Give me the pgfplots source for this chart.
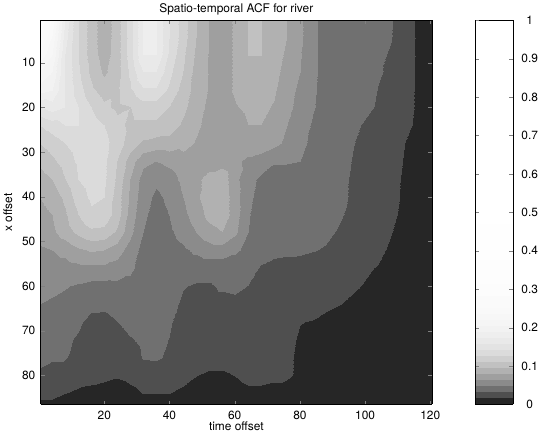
\documentclass[border=0pt]{standalone}
\usepackage{fontspec}
\setmainfont{TeX Gyre Heros}
\usepackage{pgfplots}
\pgfplotsset{compat=1.18}
\pgfplotsset{/pgf/number format/assume math mode=true}
\begin{document}
\begin{tikzpicture}[font=\fontsize{12}{14}\selectfont]
\begin{axis}[
    width=394pt, height=387pt, scale only axis,
    view={0}{90},
    xmin=0.5, xmax=120.5, ymin=0.5, ymax=86.5,
    y dir=reverse,
    xtick={20,40,60,80,100,120},
    ytick={10,20,30,40,50,60,70,80},
    xtick pos=both, ytick pos=both,
    xticklabel pos=left, yticklabel pos=left,
    tick align=inside,
    major tick length=4pt,
    axis line style={line width=0.6pt},
    axis on top,
    xticklabel style={yshift=-3pt},
    yticklabel style={xshift=-2pt},
    xlabel={time offset}, ylabel={x offset},
    xlabel style={yshift=5pt}, ylabel shift=3pt,
    title={Spatio-temporal ACF for river},
    title style={yshift=-4pt},
    colormap={acf}{gray(0cm)=(0.15) gray(1cm)=(0.31) gray(2cm)=(0.44) gray(3cm)=(0.545)
      gray(4cm)=(0.625) gray(5cm)=(0.695) gray(6cm)=(0.755) gray(7cm)=(0.81) gray(8cm)=(0.86)
      gray(9cm)=(0.89) gray(10cm)=(0.915) gray(11cm)=(0.935) gray(12cm)=(0.95) gray(13cm)=(0.96)
      gray(14cm)=(0.968) gray(15cm)=(0.975) gray(16cm)=(0.98) gray(18cm)=(0.987) gray(20cm)=(0.993)
      gray(24cm)=(0.997) gray(30cm)=(1) gray(64cm)=(1)},
    colormap access=piecewise constant,
    point meta min=0, point meta max=1,
    colorbar,
    colorbar style={
        width=38pt,
        at={(parent axis.north east)}, anchor=north west, xshift=35pt,
        ytick={0,0.1,0.2,0.3,0.4,0.5,0.6,0.7,0.8,0.9,1},
        ytick pos=both, yticklabel pos=right,
        tick align=inside, major tick length=4pt,
        axis line style={line width=0.6pt},
        yticklabel style={anchor=center, inner xsep=0pt, xshift=17pt},
    },
]
\addplot3[surf, shader=interp, mesh/cols=31] coordinates {
(0,0,0.313) (4,0,0.250) (8,0,0.172) (12,0,0.125) (16,0,0.102) (20,0,0.084) (24,0,0.102) (28,0,0.133) (32,0,0.172) (36,0,0.172) (40,0,0.141) (44,0,0.117) (48,0,0.094) (52,0,0.078) (56,0,0.072) (60,0,0.080) (64,0,0.094) (68,0,0.094) (72,0,0.0875) (76,0,0.078) (80,0,0.066) (84,0,0.050) (88,0,0.041) (92,0,0.039) (96,0,0.0375) (100,0,0.036) (104,0,0.034) (108,0,0.032) (112,0,0.023) (116,0,0.014) (121,0,0.008)
(0,4,0.281) (4,4,0.234) (8,4,0.164) (12,4,0.125) (16,4,0.102) (20,4,0.084) (24,4,0.102) (28,4,0.133) (32,4,0.172) (36,4,0.172) (40,4,0.141) (44,4,0.117) (48,4,0.094) (52,4,0.078) (56,4,0.072) (60,4,0.080) (64,4,0.094) (68,4,0.094) (72,4,0.0875) (76,4,0.078) (80,4,0.066) (84,4,0.050) (88,4,0.041) (92,4,0.039) (96,4,0.0375) (100,4,0.036) (104,4,0.034) (108,4,0.032) (112,4,0.023) (116,4,0.014) (121,4,0.008)
(0,8,0.250) (4,8,0.219) (8,8,0.156) (12,8,0.125) (16,8,0.102) (20,8,0.086) (24,8,0.102) (28,8,0.133) (32,8,0.172) (36,8,0.172) (40,8,0.138) (44,8,0.113) (48,8,0.091) (52,8,0.077) (56,8,0.072) (60,8,0.080) (64,8,0.094) (68,8,0.094) (72,8,0.086) (76,8,0.075) (80,8,0.064) (84,8,0.050) (88,8,0.041) (92,8,0.039) (96,8,0.0375) (100,8,0.036) (104,8,0.034) (108,8,0.030) (112,8,0.023) (116,8,0.014) (121,8,0.008)
(0,12,0.219) (4,12,0.203) (8,12,0.156) (12,12,0.128) (16,12,0.106) (20,12,0.091) (24,12,0.102) (28,12,0.128) (32,12,0.156) (36,12,0.156) (40,12,0.130) (44,12,0.109) (48,12,0.0875) (52,12,0.077) (56,12,0.072) (60,12,0.080) (64,12,0.091) (68,12,0.091) (72,12,0.083) (76,12,0.072) (80,12,0.0625) (84,12,0.050) (88,12,0.041) (92,12,0.039) (96,12,0.0375) (100,12,0.036) (104,12,0.032) (108,12,0.030) (112,12,0.023) (116,12,0.014) (121,12,0.008)
(0,16,0.195) (4,16,0.188) (8,16,0.156) (12,16,0.133) (16,16,0.113) (20,16,0.102) (24,16,0.106) (28,16,0.122) (32,16,0.138) (36,16,0.138) (40,16,0.122) (44,16,0.103) (48,16,0.0875) (52,16,0.077) (56,16,0.072) (60,16,0.080) (64,16,0.086) (68,16,0.086) (72,16,0.080) (76,16,0.069) (80,16,0.059) (84,16,0.049) (88,16,0.041) (92,16,0.039) (96,16,0.0375) (100,16,0.035) (104,16,0.031) (108,16,0.028) (112,16,0.022) (116,16,0.014) (121,16,0.008)
(0,20,0.156) (4,20,0.164) (8,20,0.156) (12,20,0.141) (16,20,0.125) (20,20,0.113) (24,20,0.106) (28,20,0.109) (32,20,0.117) (36,20,0.117) (40,20,0.109) (44,20,0.098) (48,20,0.084) (52,20,0.075) (56,20,0.070) (60,20,0.077) (64,20,0.081) (68,20,0.081) (72,20,0.077) (76,20,0.066) (80,20,0.058) (84,20,0.048) (88,20,0.041) (92,20,0.039) (96,20,0.0375) (100,20,0.034) (104,20,0.030) (108,20,0.027) (112,20,0.021) (116,20,0.014) (121,20,0.008)
(0,24,0.125) (4,24,0.133) (8,24,0.141) (12,24,0.141) (16,24,0.133) (20,24,0.125) (24,24,0.114) (28,24,0.106) (32,24,0.106) (36,24,0.106) (40,24,0.102) (44,24,0.091) (48,24,0.081) (52,24,0.073) (56,24,0.069) (60,24,0.072) (64,24,0.078) (68,24,0.078) (72,24,0.072) (76,24,0.0625) (80,24,0.055) (84,24,0.045) (88,24,0.041) (92,24,0.038) (96,24,0.034) (100,24,0.030) (104,24,0.027) (108,24,0.024) (112,24,0.020) (116,24,0.013) (121,24,0.008)
(0,28,0.109) (4,28,0.117) (8,28,0.125) (12,28,0.133) (16,28,0.138) (20,28,0.130) (24,28,0.117) (28,28,0.102) (32,28,0.091) (36,28,0.0875) (40,28,0.0875) (44,28,0.083) (48,28,0.077) (52,28,0.072) (56,28,0.069) (60,28,0.069) (64,28,0.072) (68,28,0.072) (72,28,0.067) (76,28,0.059) (80,28,0.050) (84,28,0.044) (88,28,0.041) (92,28,0.0375) (96,28,0.032) (100,28,0.028) (104,28,0.025) (108,28,0.023) (112,28,0.016) (116,28,0.011) (121,28,0.008)
(0,32,0.097) (4,32,0.106) (8,32,0.117) (12,32,0.128) (16,32,0.134) (20,32,0.128) (24,32,0.109) (28,32,0.086) (32,32,0.067) (36,32,0.0625) (40,32,0.067) (44,32,0.073) (48,32,0.072) (52,32,0.072) (56,32,0.072) (60,32,0.066) (64,32,0.059) (68,32,0.055) (72,32,0.048) (76,32,0.048) (80,32,0.047) (84,32,0.042) (88,32,0.040) (92,32,0.037) (96,32,0.031) (100,32,0.027) (104,32,0.024) (108,32,0.021) (112,32,0.015) (116,32,0.011) (121,32,0.008)
(0,36,0.086) (4,36,0.094) (8,36,0.109) (12,36,0.125) (16,36,0.133) (20,36,0.128) (24,36,0.106) (28,36,0.078) (32,36,0.056) (36,36,0.050) (40,36,0.055) (44,36,0.067) (48,36,0.075) (52,36,0.083) (56,36,0.0875) (60,36,0.067) (64,36,0.052) (68,36,0.044) (72,36,0.042) (76,36,0.041) (80,36,0.041) (84,36,0.039) (88,36,0.038) (92,36,0.035) (96,36,0.030) (100,36,0.027) (104,36,0.023) (108,36,0.020) (112,36,0.014) (116,36,0.010) (121,36,0.008)
(0,40,0.078) (4,40,0.084) (8,40,0.098) (12,40,0.117) (16,40,0.128) (20,40,0.125) (24,40,0.102) (28,40,0.075) (32,40,0.053) (36,40,0.044) (40,40,0.050) (44,40,0.0625) (48,40,0.075) (52,40,0.0875) (56,40,0.089) (60,40,0.069) (64,40,0.050) (68,40,0.042) (72,40,0.041) (76,40,0.041) (80,40,0.040) (84,40,0.039) (88,40,0.0375) (92,40,0.034) (96,40,0.030) (100,40,0.026) (104,40,0.023) (108,40,0.019) (112,40,0.014) (116,40,0.009) (121,40,0.008)
(0,44,0.073) (4,44,0.078) (8,44,0.091) (12,44,0.109) (16,44,0.122) (20,44,0.119) (24,44,0.102) (28,44,0.072) (32,44,0.050) (36,44,0.041) (40,44,0.047) (44,44,0.058) (48,44,0.070) (52,44,0.083) (56,44,0.088) (60,44,0.070) (64,44,0.048) (68,44,0.041) (72,44,0.040) (76,44,0.040) (80,44,0.039) (84,44,0.038) (88,44,0.036) (92,44,0.033) (96,44,0.028) (100,44,0.025) (104,44,0.022) (108,44,0.018) (112,44,0.013) (116,44,0.009) (121,44,0.008)
(0,48,0.070) (4,48,0.075) (8,48,0.086) (12,48,0.098) (16,48,0.106) (20,48,0.105) (24,48,0.091) (28,48,0.067) (32,48,0.047) (36,48,0.039) (40,48,0.044) (44,48,0.053) (48,48,0.0625) (52,48,0.072) (56,48,0.078) (60,48,0.066) (64,48,0.047) (68,48,0.039) (72,48,0.039) (76,48,0.038) (80,48,0.0375) (84,48,0.036) (88,48,0.034) (92,48,0.030) (96,48,0.026) (100,48,0.023) (104,48,0.020) (108,48,0.016) (112,48,0.012) (116,48,0.009) (121,48,0.008)
(0,52,0.059) (4,52,0.0625) (8,52,0.067) (12,52,0.075) (16,52,0.080) (20,52,0.078) (24,52,0.070) (28,52,0.056) (32,52,0.042) (36,52,0.037) (40,52,0.039) (44,52,0.044) (48,52,0.050) (52,52,0.055) (56,52,0.056) (60,52,0.050) (64,52,0.042) (68,52,0.036) (72,52,0.035) (76,52,0.034) (80,52,0.034) (84,52,0.032) (88,52,0.030) (92,52,0.027) (96,52,0.023) (100,52,0.021) (104,52,0.018) (108,52,0.014) (112,52,0.011) (116,52,0.009) (121,52,0.008)
(0,56,0.056) (4,56,0.056) (8,56,0.056) (12,56,0.058) (16,56,0.059) (20,56,0.059) (24,56,0.056) (28,56,0.050) (32,56,0.041) (36,56,0.0375) (40,56,0.0375) (44,56,0.0375) (48,56,0.037) (52,56,0.037) (56,56,0.0375) (60,56,0.0375) (64,56,0.036) (68,56,0.030) (72,56,0.027) (76,56,0.026) (80,56,0.025) (84,56,0.025) (88,56,0.024) (92,56,0.023) (96,56,0.020) (100,56,0.017) (104,56,0.015) (108,56,0.012) (112,56,0.009) (116,56,0.008) (121,56,0.008)
(0,60,0.052) (4,60,0.050) (8,60,0.048) (12,60,0.045) (16,60,0.042) (20,60,0.042) (24,60,0.043) (28,60,0.042) (32,60,0.039) (36,60,0.0375) (40,60,0.035) (44,60,0.032) (48,60,0.030) (52,60,0.030) (56,60,0.033) (60,60,0.034) (64,60,0.031) (68,60,0.025) (72,60,0.023) (76,60,0.023) (80,60,0.023) (84,60,0.022) (88,60,0.021) (92,60,0.020) (96,60,0.017) (100,60,0.015) (104,60,0.0125) (108,60,0.010) (112,60,0.009) (116,60,0.008) (121,60,0.008)
(0,64,0.047) (4,64,0.045) (8,64,0.042) (12,64,0.0375) (16,64,0.034) (20,64,0.034) (24,64,0.0375) (28,64,0.040) (32,64,0.041) (36,64,0.041) (40,64,0.036) (44,64,0.029) (48,64,0.027) (52,64,0.027) (56,64,0.027) (60,64,0.028) (64,64,0.027) (68,64,0.023) (72,64,0.022) (76,64,0.021) (80,64,0.020) (84,64,0.020) (88,64,0.018) (92,64,0.016) (96,64,0.014) (100,64,0.012) (104,64,0.010) (108,64,0.009) (112,64,0.008) (116,64,0.008) (121,64,0.008)
(0,68,0.041) (4,68,0.039) (8,68,0.037) (12,68,0.033) (16,68,0.028) (20,68,0.027) (24,68,0.031) (28,68,0.036) (32,68,0.038) (36,68,0.038) (40,68,0.033) (44,68,0.025) (48,68,0.023) (52,68,0.023) (56,68,0.023) (60,68,0.023) (64,68,0.023) (68,68,0.022) (72,68,0.021) (76,68,0.019) (80,68,0.016) (84,68,0.015) (88,68,0.0125) (92,68,0.011) (96,68,0.009) (100,68,0.009) (104,68,0.008) (108,68,0.008) (112,68,0.008) (116,68,0.008) (121,68,0.008)
(0,72,0.036) (4,72,0.035) (8,72,0.033) (12,72,0.030) (16,72,0.025) (20,72,0.023) (24,72,0.025) (28,72,0.030) (32,72,0.034) (36,72,0.034) (40,72,0.031) (44,72,0.023) (48,72,0.022) (52,72,0.022) (56,72,0.022) (60,72,0.023) (64,72,0.023) (68,72,0.022) (72,72,0.021) (76,72,0.019) (80,72,0.014) (84,72,0.011) (88,72,0.009) (92,72,0.009) (96,72,0.008) (100,72,0.008) (104,72,0.008) (108,72,0.008) (112,72,0.008) (116,72,0.008) (121,72,0.008)
(0,76,0.033) (4,76,0.032) (8,76,0.032) (12,76,0.027) (16,76,0.022) (20,76,0.021) (24,76,0.021) (28,76,0.025) (32,76,0.032) (36,76,0.033) (40,76,0.029) (44,76,0.022) (48,76,0.020) (52,76,0.020) (56,76,0.020) (60,76,0.021) (64,76,0.022) (68,76,0.021) (72,76,0.020) (76,76,0.018) (80,76,0.013) (84,76,0.010) (88,76,0.008) (92,76,0.008) (96,76,0.008) (100,76,0.008) (104,76,0.008) (108,76,0.008) (112,76,0.008) (116,76,0.008) (121,76,0.008)
(0,80,0.030) (4,80,0.028) (8,80,0.025) (12,80,0.023) (16,80,0.020) (20,80,0.019) (24,80,0.017) (28,80,0.019) (32,80,0.021) (36,80,0.022) (40,80,0.021) (44,80,0.020) (48,80,0.016) (52,80,0.014) (56,80,0.014) (60,80,0.016) (64,80,0.019) (68,80,0.019) (72,80,0.018) (76,80,0.018) (80,80,0.0125) (84,80,0.009) (88,80,0.008) (92,80,0.008) (96,80,0.008) (100,80,0.008) (104,80,0.008) (108,80,0.008) (112,80,0.008) (116,80,0.008) (121,80,0.008)
(0,84,0.020) (4,84,0.020) (8,84,0.016) (12,84,0.013) (16,84,0.012) (20,84,0.010) (24,84,0.009) (28,84,0.0125) (32,84,0.016) (36,84,0.016) (40,84,0.016) (44,84,0.013) (48,84,0.011) (52,84,0.009) (56,84,0.009) (60,84,0.011) (64,84,0.013) (68,84,0.013) (72,84,0.012) (76,84,0.009) (80,84,0.008) (84,84,0.008) (88,84,0.008) (92,84,0.008) (96,84,0.008) (100,84,0.008) (104,84,0.008) (108,84,0.008) (112,84,0.008) (116,84,0.008) (121,84,0.008)
(0,87,0.011) (4,87,0.010) (8,87,0.008) (12,87,0.008) (16,87,0.008) (20,87,0.008) (24,87,0.008) (28,87,0.008) (32,87,0.008) (36,87,0.008) (40,87,0.008) (44,87,0.008) (48,87,0.008) (52,87,0.008) (56,87,0.008) (60,87,0.008) (64,87,0.008) (68,87,0.008) (72,87,0.008) (76,87,0.008) (80,87,0.008) (84,87,0.008) (88,87,0.008) (92,87,0.008) (96,87,0.008) (100,87,0.008) (104,87,0.008) (108,87,0.008) (112,87,0.008) (116,87,0.008) (121,87,0.008)
};
\end{axis}
\end{tikzpicture}
\end{document}
